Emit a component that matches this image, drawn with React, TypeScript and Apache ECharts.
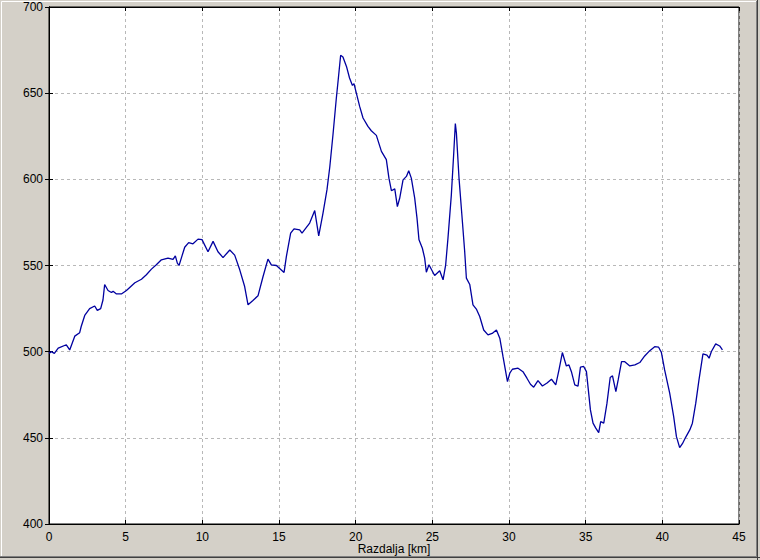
import React, { useEffect, useRef } from "react";
import * as echarts from "echarts";

const distanceKm = [
  0.0, 0.15, 0.35, 0.6, 1.13, 1.35, 1.68, 2.0, 2.1, 2.33, 2.65, 2.98, 3.15, 3.37, 3.52, 3.63, 3.85, 4.07, 4.18, 4.4,
  4.72, 5.05, 5.6, 6.03, 6.35, 6.68, 7.0, 7.33, 7.76, 8.09, 8.24, 8.37, 8.48, 8.63, 8.85, 9.11, 9.39, 9.72, 9.98,
  10.37, 10.7, 11.02, 11.35, 11.79, 12.11, 12.44, 12.76, 12.98, 13.3, 13.63, 13.96, 14.28, 14.5, 14.83, 15.33, 15.48,
  15.76, 15.98, 16.35, 16.5, 17.0, 17.33, 17.59, 17.87, 18.13, 18.31, 18.52, 18.74, 18.85, 19.02, 19.17, 19.4, 19.6,
  19.79, 19.89, 20.26, 20.48, 20.8, 21.02, 21.35, 21.68, 22.0, 22.17, 22.33, 22.55, 22.72, 22.87, 23.09, 23.31, 23.46,
  23.63, 23.85, 24.0, 24.13, 24.35, 24.5, 24.61, 24.78, 25.15, 25.48, 25.7, 25.87, 26.02, 26.24, 26.39, 26.5, 26.57,
  26.74, 26.96, 27.11, 27.22, 27.44, 27.65, 27.87, 28.09, 28.35, 28.63, 28.9, 29.18, 29.4, 29.61, 29.9, 30.05, 30.22,
  30.59, 30.91, 31.17, 31.4, 31.61, 31.89, 32.18, 32.48, 32.77, 33.05, 33.26, 33.48, 33.74, 33.91, 34.07, 34.29, 34.5,
  34.66, 34.87, 35.05, 35.31, 35.48, 35.66, 35.85, 35.98, 36.18, 36.39, 36.6, 36.75, 36.97, 37.12, 37.34, 37.55, 37.88,
  38.21, 38.53, 38.85, 39.18, 39.5, 39.76, 39.94, 40.15, 40.48, 40.74, 40.92, 41.13, 41.31, 41.52, 41.79, 41.96, 42.18,
  42.39, 42.65, 42.91, 43.05, 43.2, 43.48, 43.74, 43.92,
];

const elevationM = [
  499, 500, 499, 502, 504, 501, 509, 511, 514.6, 521, 525, 526.5, 524, 525, 530, 539, 535.5, 534.3, 535, 533.5,
  533.5, 535.5, 540, 542, 544.6, 547.9, 550.4, 553.3, 554.3, 553.5, 555.6, 551.4, 550, 554.3, 560.6, 563.3, 562.6, 565.3, 565,
  558, 564, 558, 554.6, 559, 556, 547.5, 537.8, 527.2, 529.7, 532.4, 543.6, 553.7, 550.4, 550, 546, 555.2,
  568.8, 571.3, 570.7, 568.8, 574.6, 581.9, 567.2, 580.4, 594, 607, 625.9, 647.2, 656.8, 672, 671, 665.5, 658.8,
  654.5, 655.5, 642.3, 635.6, 630.7, 628.2, 625.5, 616.2, 611.4, 600.7, 593.4, 594.5, 584.2, 589, 599.7, 601.7, 605,
  600.7, 589.1, 577.5, 564.9, 560, 554.3, 546.1, 550.4, 544.2, 547, 541.7, 550.4, 565.9, 591, 614.3, 632.4, 626.8,
  600.7, 575.5, 558.1, 542.7, 539, 527.2, 524.7, 520.4, 512.6, 509.7, 510.6, 512.6, 507.8, 497.1, 482.6, 487.5, 489.8,
  490.4, 488.4, 484.6, 481.1, 479.4, 483.2, 480.1, 481.8, 484, 480.7, 489.4, 499.5, 491.7, 492.3, 488.4, 480.7, 480,
  491, 491.4, 488.4, 466.2, 458.5, 455.6, 453, 459.4, 458.5, 470.1, 485, 486, 476.8, 483.6, 494.2, 494.2, 491.7,
  492.3, 493.7, 497.5, 500.6, 502.9, 502.6, 499.5, 489.4, 475.9, 462.3, 450.7, 444.3, 446.6, 450.3, 454.6, 458.5, 470.1,
  483.6, 498.7, 498, 496.2, 500.1, 504.5, 503.3, 501,
];

const xAxisName = "Razdalja [km]";
const xMin = 0, xMax = 45, xStep = 5;
const yMin = 400, yMax = 700, yStep = 50;

export default function App() {
  const ref = useRef<HTMLDivElement>(null);
  useEffect(() => {
    document.body.style.margin = "0";
    if (!ref.current) return;
    const chart = echarts.init(ref.current, undefined, { renderer: "svg" });
    const font = { fontFamily: "Liberation Sans, Arial, sans-serif", fontSize: 12, color: "#000" };
    const tickInside = { show: true, inside: true, length: 4, lineStyle: { color: "#000", width: 1 } };
    chart.setOption({
      animation: false,
      backgroundColor: "#d4d0c8",
      grid: {
        left: 49, right: 21, top: 7, bottom: 36, containLabel: false, outerBoundsMode: "none",
        show: true, backgroundColor: "#fff", borderColor: "#000", borderWidth: 1,
      },
      xAxis: [
        {
          type: "value", min: xMin, max: xMax, interval: xStep,
          name: xAxisName, nameLocation: "middle", nameGap: 19, nameMoveOverlap: false,
          nameTextStyle: { ...font },
          axisLine: { show: true, lineStyle: { color: "#000", width: 1 } },
          axisTick: tickInside,
          axisLabel: { ...font, margin: 7 },
          splitLine: { show: true, lineStyle: { color: "#b8b8b8", type: [3, 3], width: 1 } },
        },
        {
          type: "value", min: xMin, max: xMax, interval: xStep, position: "top",
          axisLine: { show: true, lineStyle: { color: "#000", width: 1 } },
          axisTick: tickInside, axisLabel: { show: false }, splitLine: { show: false },
        },
      ],
      yAxis: [
        {
          type: "value", min: yMin, max: yMax, interval: yStep,
          axisLine: { show: true, lineStyle: { color: "#000", width: 1 } },
          axisTick: tickInside,
          axisLabel: { ...font, margin: 6 },
          splitLine: { show: true, lineStyle: { color: "#b8b8b8", type: [3, 3], width: 1 } },
        },
        {
          type: "value", min: yMin, max: yMax, interval: yStep, position: "right",
          axisLine: { show: true, lineStyle: { color: "#000", width: 1 } },
          axisTick: tickInside, axisLabel: { show: false }, splitLine: { show: false },
        },
      ],
      graphic: [
        { type: "line", shape: { x1: 1.5, y1: 1.5, x2: 1.5, y2: 557 }, style: { stroke: "#ffffff", lineWidth: 1 } },
        { type: "line", shape: { x1: 1.5, y1: 1.5, x2: 757, y2: 1.5 }, style: { stroke: "#ffffff", lineWidth: 1 } },
        { type: "line", shape: { x1: 756.5, y1: 1, x2: 756.5, y2: 557 }, style: { stroke: "#808080", lineWidth: 1 } },
        { type: "line", shape: { x1: 0, y1: 556.5, x2: 757, y2: 556.5 }, style: { stroke: "#808080", lineWidth: 1 } },
        { type: "line", shape: { x1: 757.5, y1: 0, x2: 757.5, y2: 560 }, style: { stroke: "#404040", lineWidth: 1 } },
        { type: "line", shape: { x1: 0, y1: 557.5, x2: 760, y2: 557.5 }, style: { stroke: "#404040", lineWidth: 1 } },
      ],
      series: [
        {
          type: "line",
          xAxisIndex: 0,
          yAxisIndex: 0,
          showSymbol: false,
          data: distanceKm.map((d, i) => [d, elevationM[i]]),
          lineStyle: { color: "#0000a0", width: 1.3 },
          itemStyle: { color: "#0000a0" },
        },
      ],
    });
    return () => chart.dispose();
  }, []);
  return <div ref={ref} style={{ position: "absolute", left: 0, top: 0, width: 760, height: 560 }} />;
}
